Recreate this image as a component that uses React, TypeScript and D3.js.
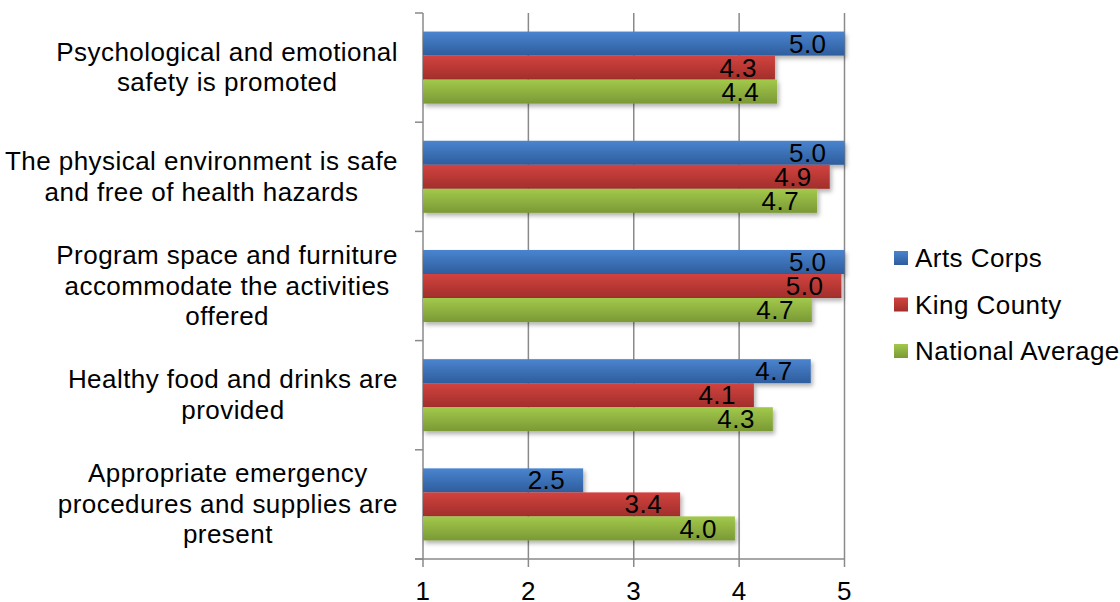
import React from "react";
import * as d3 from "d3";

const categories = [
  "Psychological and emotional safety is promoted",
  "The physical environment is safe and free of health hazards",
  "Program space and furniture accommodate the activities offered",
  "Healthy food and drinks are provided",
  "Appropriate emergency procedures and supplies are present",
];
const categoryLines = [
  ["Psychological and emotional", "safety is promoted"],
  ["The physical environment is safe", "and free of health hazards"],
  ["Program space and furniture", "accommodate the activities", "offered"],
  ["Healthy food and drinks are", "provided"],
  ["Appropriate emergency", "procedures and supplies are", "present"],
];
const seriesNames = ["Arts Corps", "King County", "National Average"];
const artsCorps = [5.0, 5.0, 5.0, 4.68, 2.52];
const kingCounty = [4.34, 4.86, 4.97, 4.14, 3.44];
const nationalAverage = [4.36, 4.74, 4.69, 4.32, 3.96];
const xTicks = [1, 2, 3, 4, 5];

const seriesValues = [artsCorps, kingCounty, nationalAverage];
const gradTop = ["#4a84cf", "#d2433f", "#a2c94b"];
const gradBot = ["#2e5d9d", "#a12e2b", "#7a9935"];

const FONT = "'Liberation Sans', Arial, Helvetica, sans-serif";
const FS = 26;
const LS = 0.45;

let ctx: CanvasRenderingContext2D | null = null;
function measure(t: string): number {
  if (!ctx) {
    const c = document.createElement("canvas");
    ctx = c.getContext("2d");
  }
  if (!ctx) return t.length * FS * 0.5;
  ctx.font = `${FS}px ${FONT}`;
  return ctx.measureText(t).width + t.length * LS;
}

export default function App() {
  const W = 1120;
  const H = 602;
  const x = d3.scaleLinear().domain([1, 5]).range([423, 844.5]);
  const yOuter = d3.scaleBand<string>().domain(categories).range([13, 559]);
  const y = d3
    .scaleBand<string>()
    .domain(categories)
    .range([13, 559])
    .paddingInner(0.34)
    .paddingOuter(0.17);
  const y1 = d3.scaleBand<string>().domain(seriesNames).range([0, y.bandwidth()]);

  const [plotTop, plotBottom] = yOuter.range();
  const boundaries = categories.map((c) => yOuter(c) as number).concat([plotBottom]);
  const labelRight = 398;
  const lineH = 30.5;

  return (
    <svg
      width={W}
      height={H}
      style={{ position: "absolute", left: 0, top: 0, background: "#fff" }}
      fontFamily={FONT}
      letterSpacing={LS}
    >
      <defs>
        {seriesNames.map((s, i) => (
          <linearGradient key={s} id={`g${i}`} x1="0" y1="0" x2="0" y2="1">
            <stop offset="0" stopColor={gradTop[i]} />
            <stop offset="1" stopColor={gradBot[i]} />
          </linearGradient>
        ))}
        <filter id="sh" x="-5%" y="-20%" width="115%" height="160%">
          <feDropShadow dx="2" dy="3" stdDeviation="2" floodColor="#000" floodOpacity="0.3" />
        </filter>
      </defs>

      {/* grid lines */}
      {xTicks.slice(1).map((t) => (
        <line key={t} x1={x(t)} x2={x(t)} y1={plotTop} y2={plotBottom + 8} stroke="#8a8a8a" strokeWidth={1.5} />
      ))}
      {/* axes */}
      <line x1={x(1)} x2={x(1)} y1={plotTop} y2={plotBottom + 8} stroke="#8a8a8a" strokeWidth={1.5} />
      <line x1={x(1) - 8} x2={x(5)} y1={plotBottom} y2={plotBottom} stroke="#8a8a8a" strokeWidth={1.5} />
      {boundaries.map((b, i) => (
        <line key={i} x1={x(1) - 8} x2={x(1)} y1={b} y2={b} stroke="#8a8a8a" strokeWidth={1.5} />
      ))}

      {/* bars */}
      {categories.map((c, ci) => (
        <g key={c} transform={`translate(0,${y(c)})`}>
          {seriesNames.map((s, si) => {
            const v = seriesValues[si][ci];
            return (
              <rect
                key={s}
                x={x(1)}
                y={y1(s)}
                width={x(v) - x(1)}
                height={y1.bandwidth()}
                fill={`url(#g${si})`}
                filter="url(#sh)"
              />
            );
          })}
          {seriesNames.map((s, si) => {
            const v = seriesValues[si][ci];
            return (
              <text
                key={s + "l"}
                x={x(v) - 18}
                y={(y1(s) as number) + y1.bandwidth() / 2}
                dy="0.35em"
                textAnchor="end"
                fontSize={FS}
                fill="#000"
              >
                {v.toFixed(1)}
              </text>
            );
          })}
        </g>
      ))}

      {/* category labels */}
      {categories.map((c, ci) => {
        const lines = categoryLines[ci];
        const maxW = Math.max(...lines.map(measure));
        const cx = labelRight - maxW / 2;
        const cy = (yOuter(c) as number) + yOuter.bandwidth() / 2;
        const first = cy - ((lines.length - 1) * lineH) / 2 + 8.5;
        return (
          <text key={c} textAnchor="middle" fontSize={FS} fill="#000">
            {lines.map((l, li) => (
              <tspan key={li} x={cx} y={first + li * lineH}>
                {l}
              </tspan>
            ))}
          </text>
        );
      })}

      {/* x tick labels */}
      {xTicks.map((t) => (
        <text key={t} x={x(t)} y={600} textAnchor="middle" fontSize={FS} fill="#000">
          {t}
        </text>
      ))}

      {/* legend */}
      {seriesNames.map((s, i) => (
        <g key={s} transform={`translate(894,${251 + i * 46.5})`}>
          <rect x={0} y={0} width={14} height={14} fill={`url(#g${i})`} />
          <text x={21} y={7} dy="0.35em" fontSize={FS} fill="#000">
            {s}
          </text>
        </g>
      ))}
    </svg>
  );
}
